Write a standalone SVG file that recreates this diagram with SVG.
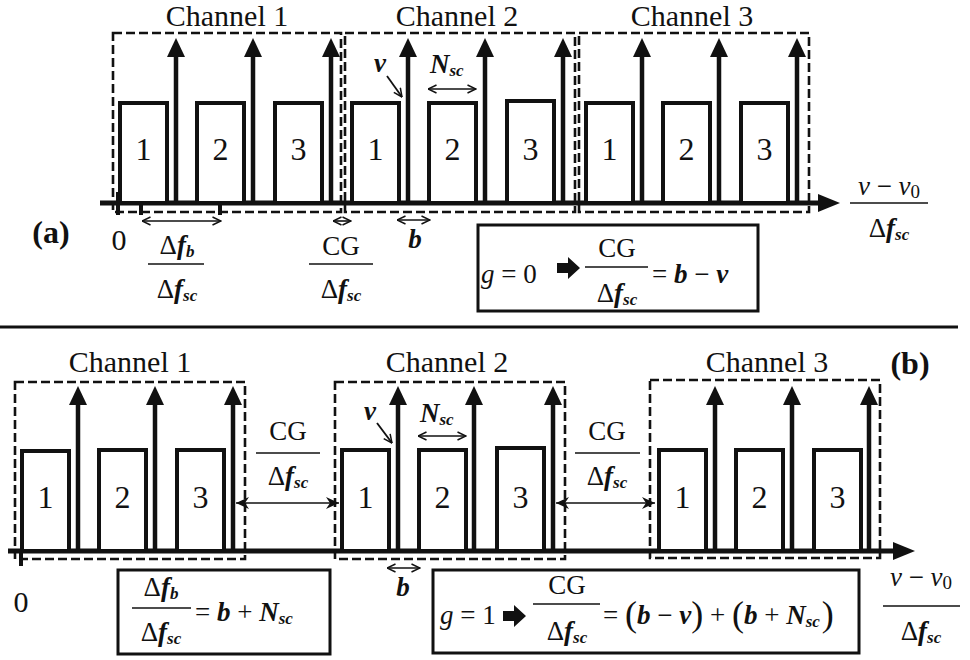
<svg xmlns="http://www.w3.org/2000/svg" xmlns:xlink="http://www.w3.org/1999/xlink" width="970" height="660" viewBox="0 0 970 660">
<style>
text, tspan {font-family:"Liberation Serif","Times New Roman",Times,Tinos,"Noto Serif","DejaVu Serif","FreeSerif","Nimbus Roman",serif;fill:#111;}
.ch{font-size:30px;text-anchor:middle;}
.num{font-size:32px;text-anchor:middle;}
.m{font-size:27px;}
.mc{font-size:27px;text-anchor:middle;}
.bi{font-style:italic;font-weight:bold;}
.it{font-style:italic;}
.sub{font-size:17px;font-style:italic;font-weight:bold;}
.lab{font-size:32px;font-weight:bold;text-anchor:middle;}
.par{font-size:36px;}
.sc{fill:#fff;stroke:#111;stroke-width:4;}
.dash{fill:none;stroke:#111;stroke-width:2.6;stroke-dasharray:9 4;}
.axis{stroke:#111;stroke-width:5;fill:none;}
.thin{stroke:#111;stroke-width:1.6;fill:none;marker-start:url(#op);marker-end:url(#op);}
.fb{stroke:#111;stroke-width:1.6;fill:none;marker-start:url(#fl);marker-end:url(#fl);}
.bar{stroke:#111;stroke-width:1.6;}
.box{fill:#fff;stroke:#111;stroke-width:3;}
.tick{stroke:#111;stroke-width:4;}
</style>
<defs>
<marker id="op" viewBox="0 0 10 10" refX="9.5" refY="5" markerWidth="10" markerHeight="10" markerUnits="userSpaceOnUse" orient="auto-start-reverse"><path d="M1,1 L9.5,5 L1,9" fill="none" stroke="#111" stroke-width="1.5"/></marker>
<marker id="fl" viewBox="0 0 14 12" refX="13" refY="6" markerWidth="14" markerHeight="12" markerUnits="userSpaceOnUse" orient="auto-start-reverse"><path d="M0,0 L13,6 L0,12 L4,6 z" fill="#111"/></marker>
<g id="car"><line x1="0" y1="0" x2="0" y2="-148" stroke="#111" stroke-width="4.5"/><polygon points="-9,-146 9,-146 0,-165" fill="#111"/></g>
<polygon id="blk" points="0,-5 11,-5 11,-11 23,0 11,11 11,5 0,5" fill="#111"/>
</defs>

<!-- ===== Panel (a) ===== -->
<g id="a-axis">
<line class="axis" x1="100" y1="203" x2="822" y2="203"/>
<polygon points="818,194 840,203 818,212" fill="#111"/>
<line class="tick" x1="118" y1="192" x2="118" y2="215"/>
<line class="tick" x1="141" y1="192" x2="141" y2="215"/>
<line class="tick" x1="220" y1="192" x2="220" y2="215"/>
<text x="119" y="250" style="font-size:30px" text-anchor="middle">0</text>
<text class="lab" x="51" y="243">(a)</text>
<text class="mc" x="889" y="195"><tspan class="it">ν</tspan> − <tspan class="it">ν</tspan><tspan font-size="19" dy="3">0</tspan></text>
<line class="bar" x1="850" y1="203" x2="928" y2="203"/>
<text class="mc" x="889" y="237">Δ<tspan class="bi">f</tspan><tspan class="sub" dy="3">sc</tspan></text>
</g>

<g id="a-ch1">
<rect class="dash" x="113" y="33" width="228" height="179"/>
<text class="ch" x="227" y="26">Channel 1</text>
<rect class="sc" x="120" y="103" width="47" height="100"/><text class="num" x="143.5" y="160">1</text>
<rect class="sc" x="197" y="103" width="47" height="100"/><text class="num" x="220.5" y="160">2</text>
<rect class="sc" x="275" y="103" width="47" height="100"/><text class="num" x="298.5" y="160">3</text>
<use xlink:href="#car" x="176" y="203"/><use xlink:href="#car" x="253" y="203"/><use xlink:href="#car" x="331" y="203"/>
</g>
<g id="a-ch2">
<rect class="dash" x="345" y="33" width="230" height="179"/>
<text class="ch" x="457" y="26">Channel 2</text>
<rect class="sc" x="352" y="103" width="47" height="100"/><text class="num" x="375.5" y="160">1</text>
<rect class="sc" x="429" y="103" width="47" height="100"/><text class="num" x="452.5" y="160">2</text>
<rect class="sc" x="507" y="101" width="47" height="102"/><text class="num" x="530.5" y="160">3</text>
<use xlink:href="#car" x="408" y="203"/><use xlink:href="#car" x="485" y="203"/><use xlink:href="#car" x="563" y="203"/>
</g>
<g id="a-ch3">
<rect class="dash" x="579" y="33" width="230" height="179"/>
<text class="ch" x="692" y="26">Channel 3</text>
<rect class="sc" x="586" y="103" width="47" height="100"/><text class="num" x="609.5" y="160">1</text>
<rect class="sc" x="663" y="103" width="47" height="100"/><text class="num" x="686.5" y="160">2</text>
<rect class="sc" x="741" y="103" width="47" height="100"/><text class="num" x="764.5" y="160">3</text>
<use xlink:href="#car" x="642" y="203"/><use xlink:href="#car" x="719" y="203"/><use xlink:href="#car" x="797" y="203"/>
</g>

<g id="a-labels">
<text class="mc" x="177" y="254">Δ<tspan class="bi">f</tspan><tspan class="sub" dy="3">b</tspan></text>
<line class="bar" x1="148" y1="264" x2="204" y2="264"/>
<text class="mc" x="177" y="298">Δ<tspan class="bi">f</tspan><tspan class="sub" dy="3">sc</tspan></text>
<text class="mc" x="341" y="255">CG</text>
<line class="bar" x1="309" y1="264" x2="373" y2="264"/>
<text class="mc" x="341" y="298">Δ<tspan class="bi">f</tspan><tspan class="sub" dy="3">sc</tspan></text>
<text class="m bi" x="380" y="72" text-anchor="middle">v</text>
<text class="m" x="430" y="73"><tspan class="bi">N</tspan><tspan class="sub" dy="3">sc</tspan></text>
<text class="m bi" x="415" y="248" text-anchor="middle">b</text>
</g>

<g id="a-formula">
<rect class="box" x="478" y="225" width="280" height="86"/>
<text class="m" x="481" y="283"><tspan class="it">g</tspan> = 0</text>
<use xlink:href="#blk" x="557" y="268"/>
<text class="mc" x="617" y="257">CG</text>
<line class="bar" x1="585" y1="267" x2="648" y2="267"/>
<text class="mc" x="617" y="302">Δ<tspan class="bi">f</tspan><tspan class="sub" dy="3">sc</tspan></text>
<text class="m" x="652" y="283">= <tspan class="bi">b</tspan> − <tspan class="bi">v</tspan></text>
</g>

<line id="separator" x1="0" y1="327" x2="958" y2="327" stroke="#111" stroke-width="3"/>

<!-- ===== Panel (b) ===== -->
<g id="b-axis">
<line class="axis" x1="8" y1="551" x2="897" y2="551"/>
<polygon points="893,542 915,551 893,560" fill="#111"/>
<line class="tick" x1="21" y1="551" x2="21" y2="566"/>
<text x="21" y="612" style="font-size:30px" text-anchor="middle">0</text>
<text class="lab" x="910" y="374">(b)</text>
<text class="mc" x="921" y="586"><tspan class="it">ν</tspan> − <tspan class="it">ν</tspan><tspan font-size="19" dy="3">0</tspan></text>
<line class="bar" x1="883" y1="606" x2="960" y2="606"/>
<text class="mc" x="921" y="640">Δ<tspan class="bi">f</tspan><tspan class="sub" dy="3">sc</tspan></text>
</g>

<g id="b-ch1">
<rect class="dash" x="15" y="382" width="230" height="177"/>
<text class="ch" x="130" y="372">Channel 1</text>
<rect class="sc" x="22" y="451" width="47" height="100"/><text class="num" x="45.5" y="508">1</text>
<rect class="sc" x="99" y="450" width="47" height="101"/><text class="num" x="122.5" y="508">2</text>
<rect class="sc" x="177" y="450" width="47" height="101"/><text class="num" x="200.5" y="508">3</text>
<use xlink:href="#car" x="78" y="551"/><use xlink:href="#car" x="155" y="551"/><use xlink:href="#car" x="233" y="551"/>
</g>
<g id="b-ch2">
<rect class="dash" x="335" y="382" width="230" height="177"/>
<text class="ch" x="447" y="372">Channel 2</text>
<rect class="sc" x="342" y="450" width="47" height="101"/><text class="num" x="365.5" y="508">1</text>
<rect class="sc" x="419" y="450" width="47" height="101"/><text class="num" x="442.5" y="508">2</text>
<rect class="sc" x="497" y="448" width="47" height="103"/><text class="num" x="520.5" y="508">3</text>
<use xlink:href="#car" x="398" y="551"/><use xlink:href="#car" x="474" y="551"/><use xlink:href="#car" x="553" y="551"/>
</g>
<g id="b-ch3">
<rect class="dash" x="650" y="380" width="230" height="178"/>
<text class="ch" x="767" y="372">Channel 3</text>
<rect class="sc" x="659" y="450" width="47" height="101"/><text class="num" x="682.5" y="508">1</text>
<rect class="sc" x="736" y="450" width="47" height="101"/><text class="num" x="759.5" y="508">2</text>
<rect class="sc" x="814" y="450" width="47" height="101"/><text class="num" x="837.5" y="508">3</text>
<use xlink:href="#car" x="715" y="551"/><use xlink:href="#car" x="792" y="551"/><use xlink:href="#car" x="869" y="551"/>
</g>

<g id="b-labels">
<text class="mc" x="288" y="440">CG</text>
<line class="bar" x1="256" y1="453" x2="320" y2="453"/>
<text class="mc" x="288" y="485">Δ<tspan class="bi">f</tspan><tspan class="sub" dy="3">sc</tspan></text>
<text class="mc" x="607" y="440">CG</text>
<line class="bar" x1="575" y1="453" x2="640" y2="453"/>
<text class="mc" x="607" y="485">Δ<tspan class="bi">f</tspan><tspan class="sub" dy="3">sc</tspan></text>
<text class="m bi" x="370" y="420" text-anchor="middle">v</text>
<text class="m" x="420" y="422"><tspan class="bi">N</tspan><tspan class="sub" dy="3">sc</tspan></text>
<text class="m bi" x="403" y="596" text-anchor="middle">b</text>
</g>

<g id="b-formula1">
<rect class="box" x="118" y="570" width="212" height="84"/>
<text class="mc" x="161" y="596">Δ<tspan class="bi">f</tspan><tspan class="sub" dy="3">b</tspan></text>
<line class="bar" x1="132" y1="608" x2="191" y2="608"/>
<text class="mc" x="161" y="641">Δ<tspan class="bi">f</tspan><tspan class="sub" dy="3">sc</tspan></text>
<text class="m" x="195" y="621">= <tspan class="bi">b</tspan> + <tspan class="bi">N</tspan><tspan class="sub" dy="3">sc</tspan></text>
</g>

<g id="b-formula2">
<rect class="box" x="433" y="570" width="426" height="83"/>
<text class="m" x="440" y="624"><tspan class="it">g</tspan> = 1</text>
<use xlink:href="#blk" x="503" y="616"/>
<text class="mc" x="567" y="594">CG</text>
<line class="bar" x1="533" y1="604" x2="600" y2="604"/>
<text class="mc" x="567" y="640">Δ<tspan class="bi">f</tspan><tspan class="sub" dy="3">sc</tspan></text>
<text class="m" x="603" y="624">= <tspan class="par" dy="2">(</tspan><tspan class="bi" dy="-2">b</tspan> − <tspan class="bi">v</tspan><tspan class="par" dy="2">)</tspan><tspan dy="-2"> + </tspan><tspan class="par" dy="2">(</tspan><tspan class="bi" dy="-2">b</tspan> + <tspan class="bi">N</tspan><tspan class="sub" dy="3">sc</tspan><tspan class="par" dx="2" dy="-1">)</tspan></text>
</g>

<g id="connectors">
<line class="thin" x1="142" y1="221" x2="221" y2="221"/>
<line class="thin" x1="333" y1="221" x2="351" y2="221"/>
<line class="thin" x1="397" y1="220" x2="430" y2="220"/>
<line class="thin" x1="428" y1="89" x2="476" y2="89"/>
<line x1="387" y1="76" x2="402" y2="97" stroke="#111" stroke-width="1.8" marker-end="url(#op)"/>
<line class="fb" x1="236" y1="503" x2="339" y2="503"/>
<line class="fb" x1="556" y1="503" x2="655" y2="503"/>
<line class="thin" x1="387" y1="568" x2="420" y2="568"/>
<line class="thin" x1="418" y1="436" x2="466" y2="436"/>
<line x1="377" y1="423" x2="392" y2="443" stroke="#111" stroke-width="1.8" marker-end="url(#op)"/>
</g>
</svg>
